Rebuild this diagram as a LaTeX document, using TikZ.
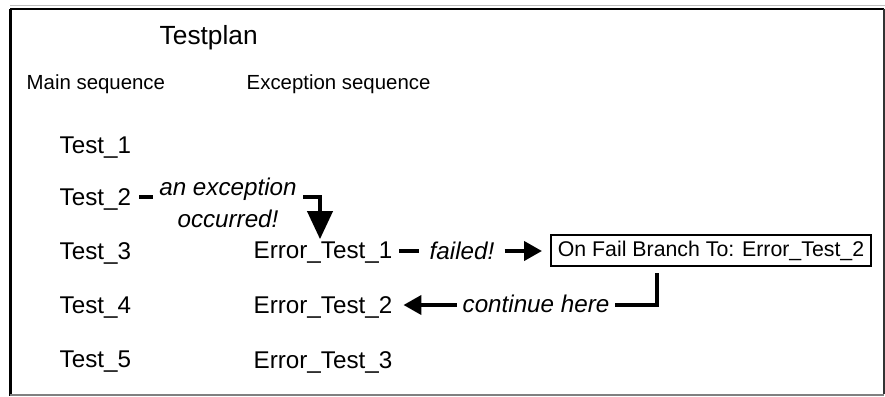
\documentclass[tikz,border=0pt]{standalone}
\usepackage{fontspec}
\setmainfont{Liberation Sans}
\usetikzlibrary{arrows.meta}
\begin{document}
\begin{tikzpicture}[x=1pt,y=-1pt,
  item/.style={anchor=base west, inner sep=0pt, font=\fontsize{24.2}{28}\selectfont},
  head/.style={anchor=base west, inner sep=0pt, font=\fontsize{20.4}{24}\selectfont},
  titletext/.style={anchor=base west, inner sep=0pt, font=\fontsize{26.3}{30}\selectfont},
  lbl/.style={anchor=base, inner sep=0pt, fill=white, font=\fontsize{24.2}{32}\selectfont\itshape},
  conn/.style={line width=4pt},
  tipS/.style={-{Triangle[length=18pt,width=19pt]}},
  tipL/.style={-{Triangle[length=28pt,width=25pt]}},
  branchbox/.style={draw, line width=2pt, inner sep=0pt, minimum width=320pt,
    minimum height=31pt, font=\fontsize{21.3}{25}\selectfont}]
\useasboundingbox (0,0) rectangle (885,396);
\fill[white] (0,0) rectangle (885,396);

% window frame
\draw[gray!50, line width=1pt] (10,6) -- (885,6);
\draw[line width=2.5pt] (10,9) -- (884,9);
\draw[line width=2.5pt] (10.5,9) -- (10.5,396);
\draw[black!80, line width=2pt] (883.5,9) -- (883.5,394);
\draw[gray, line width=1.5pt] (10,395) -- (884,395);

% headings
\node[titletext] (title) at (159.5,45) {Testplan};
\node[head] (hmain) at (26.5,89) {Main sequence};
\node[head] (hexc) at (246.5,89) {Exception sequence};

% main sequence
\node[item] (t1) at (59.5,153) {Test\_1};
\node[item] (t2) at (59.5,205) {Test\_2};
\node[item] (t3) at (59.5,259) {Test\_3};
\node[item] (t4) at (59.5,313) {Test\_4};
\node[item] (t5) at (59.5,367) {Test\_5};

% exception sequence
\node[item] (e1) at (253.5,258) {Error\_Test\_1};
\node[item] (e2) at (253.5,313) {Error\_Test\_2};
\node[item] (e3) at (253.5,368) {Error\_Test\_3};

% branch box
\node[branchbox] (box) at (711,250.5) {On Fail Branch To: Error\_Test\_2};

% connector labels
\node[lbl, minimum width=150pt] (lexc) at (228,195)
  {\begin{tabular}[t]{@{}c@{}}an exception\\occurred!\end{tabular}};
\node[lbl, minimum width=85pt] (lfail) at (462,259) {failed!};
\node[lbl, minimum width=158pt] (lcont) at (536,312) {continue here};

% Test_2 -> Error_Test_1
\coordinate (c1) at (320,197);
\draw[conn, shorten <=8pt] (c1 -| t2.east) -- (c1 -| lexc.west);
\draw[conn, tipL, shorten >=2pt] (c1 -| lexc.east) -- (c1) -- (c1 |- e1.north);

% Error_Test_1 -> branch box
\coordinate (c2) at (0,251);
\draw[conn, shorten <=7pt] (c2 -| e1.east) -- (c2 -| lfail.west);
\draw[conn, tipS, shorten >=8pt] (c2 -| lfail.east) -- (c2 -| box.west);

% branch box -> Error_Test_2
\coordinate (c3) at (657,305);
\draw[conn, shorten <=6pt] (c3 |- box.south) -- (c3) -- (c3 -| lcont.east);
\draw[conn, tipS, shorten >=11pt] (c3 -| lcont.west) -- (c3 -| e2.east);
\end{tikzpicture}
\end{document}
